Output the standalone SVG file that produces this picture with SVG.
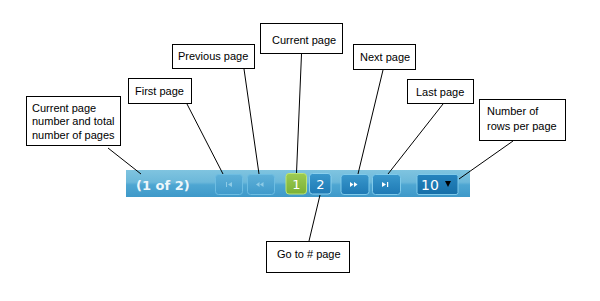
<svg xmlns="http://www.w3.org/2000/svg" width="600" height="301" viewBox="0 0 600 301">
<defs>
<linearGradient id="bar" x1="0" y1="0" x2="0" y2="1">
<stop offset="0" stop-color="#7fc4e0"/>
<stop offset="0.45" stop-color="#6cb8da"/>
<stop offset="0.55" stop-color="#4ea6d2"/>
<stop offset="1" stop-color="#3f99c9"/>
</linearGradient>
<linearGradient id="btnOff" x1="0" y1="0" x2="0" y2="1">
<stop offset="0" stop-color="#5fb0d8"/>
<stop offset="1" stop-color="#3f9acb"/>
</linearGradient>
<linearGradient id="btnOn" x1="0" y1="0" x2="0" y2="1">
<stop offset="0" stop-color="#3a98cc"/>
<stop offset="0.5" stop-color="#2b88c0"/>
<stop offset="1" stop-color="#1f7ab5"/>
</linearGradient>
<linearGradient id="green" x1="0" y1="0" x2="0" y2="1">
<stop offset="0" stop-color="#9ccb52"/>
<stop offset="1" stop-color="#7bb136"/>
</linearGradient>
<linearGradient id="sel" x1="0" y1="0" x2="0" y2="1">
<stop offset="0" stop-color="#2583bd"/>
<stop offset="1" stop-color="#166fa8"/>
</linearGradient>
</defs>
<style>
.box{fill:#fff;stroke:#000;stroke-width:1}
.lbl{font-family:"Liberation Sans",Arial,sans-serif;font-size:11px;fill:#000}
.conn line{stroke:#000;stroke-width:1}
.off{fill:url(#btnOff);stroke:#6dbde2;stroke-width:1}
.on{fill:url(#btnOn);stroke:#7fcaea;stroke-width:1}
.num{font-family:"DejaVu Sans",Verdana,sans-serif;font-size:13px;fill:#fff;text-anchor:middle}
.icoOff{fill:#8ecbe6}
.icoOn{fill:#fff}
</style>
<rect width="600" height="301" fill="#fff"/>

<g id="pager">
<rect x="126" y="170" width="344" height="27" fill="url(#bar)"/>
<text x="136" y="190" font-family="'DejaVu Sans',Verdana,sans-serif" font-weight="bold" font-size="13" fill="#eef7fb">(1 of 2)</text>
<g id="btn-first">
<rect class="off" x="215.5" y="174.5" width="27" height="20" rx="3"/>
<rect class="icoOff" x="226" y="182" width="1" height="5"/>
<polygon class="icoOff" points="228,184.5 232,182 232,187"/>
</g>
<g id="btn-prev">
<rect class="off" x="247.5" y="174.5" width="27" height="20" rx="3"/>
<polygon class="icoOff" points="256,184.5 259.5,182 259.5,187"/>
<polygon class="icoOff" points="260,184.5 263.5,182 263.5,187"/>
</g>
<g id="btn-1">
<rect x="286" y="173.5" width="20.5" height="20.5" rx="3" fill="url(#green)" stroke="#bde477"/>
<text class="num" x="296.3" y="189">1</text>
</g>
<g id="btn-2">
<rect x="309.5" y="173.5" width="21.5" height="20.5" rx="3" fill="url(#btnOn)" stroke="#8ad0ee"/>
<text class="num" x="320.3" y="189">2</text>
</g>
<g id="btn-next">
<rect class="on" x="341" y="174.5" width="28" height="20" rx="3"/>
<polygon class="icoOn" points="350,182 353.5,184.5 350,187"/>
<polygon class="icoOn" points="354,182 357.5,184.5 354,187"/>
</g>
<g id="btn-last">
<rect class="on" x="372.5" y="174.5" width="28" height="20" rx="3"/>
<polygon class="icoOn" points="382,182 386,184.5 382,187"/>
<rect class="icoOn" x="387" y="182" width="1.2" height="5"/>
</g>
<g id="rows-select">
<rect x="417" y="174.5" width="41" height="20" rx="2" fill="url(#sel)" stroke="#7fcaea"/>
<text x="421" y="190" font-family="'DejaVu Sans',Verdana,sans-serif" font-size="14" fill="#fff">10</text>
<polygon points="445,181 451,181 448,187" fill="#000"/>
</g>
</g>

<g id="connectors" class="conn">
<line x1="108" y1="148" x2="141" y2="174"/>
<line x1="187" y1="104" x2="223" y2="174"/>
<line x1="244" y1="69" x2="259" y2="174"/>
<line x1="301.5" y1="54" x2="296.5" y2="173"/>
<line x1="383" y1="70" x2="358" y2="174"/>
<line x1="443" y1="104" x2="388" y2="174"/>
<line x1="513" y1="141" x2="459" y2="179"/>
<line x1="320" y1="195" x2="309" y2="241"/>
</g>

<g id="n-total">
<rect class="box" x="26.5" y="96.5" width="94" height="49"/>
<text class="lbl" x="32" y="111.5">Current page</text>
<text class="lbl" x="32" y="125">number and total</text>
<text class="lbl" x="32" y="138.5">number of pages</text>
</g>
<g id="n-first">
<rect class="box" x="128.5" y="78.5" width="63" height="25"/>
<text class="lbl" x="135" y="95">First page</text>
</g>
<g id="n-prev">
<rect class="box" x="172.5" y="44.5" width="82" height="24"/>
<text class="lbl" x="178" y="60">Previous page</text>
</g>
<g id="n-current">
<rect class="box" x="260.5" y="23.5" width="82" height="30"/>
<text class="lbl" x="272" y="43.5">Current page</text>
</g>
<g id="n-next">
<rect class="box" x="353.5" y="44.5" width="62" height="25"/>
<text class="lbl" x="360" y="61">Next page</text>
</g>
<g id="n-last">
<rect class="box" x="407.5" y="79.5" width="66" height="24"/>
<text class="lbl" x="416" y="96">Last page</text>
</g>
<g id="n-rows">
<rect class="box" x="479.5" y="99.5" width="86" height="41"/>
<text class="lbl" x="487" y="115">Number of</text>
<text class="lbl" x="487" y="129.5">rows per page</text>
</g>
<g id="n-goto">
<rect class="box" x="266.5" y="241.5" width="83" height="31"/>
<text class="lbl" x="277" y="258">Go to # page</text>
</g>
</svg>
